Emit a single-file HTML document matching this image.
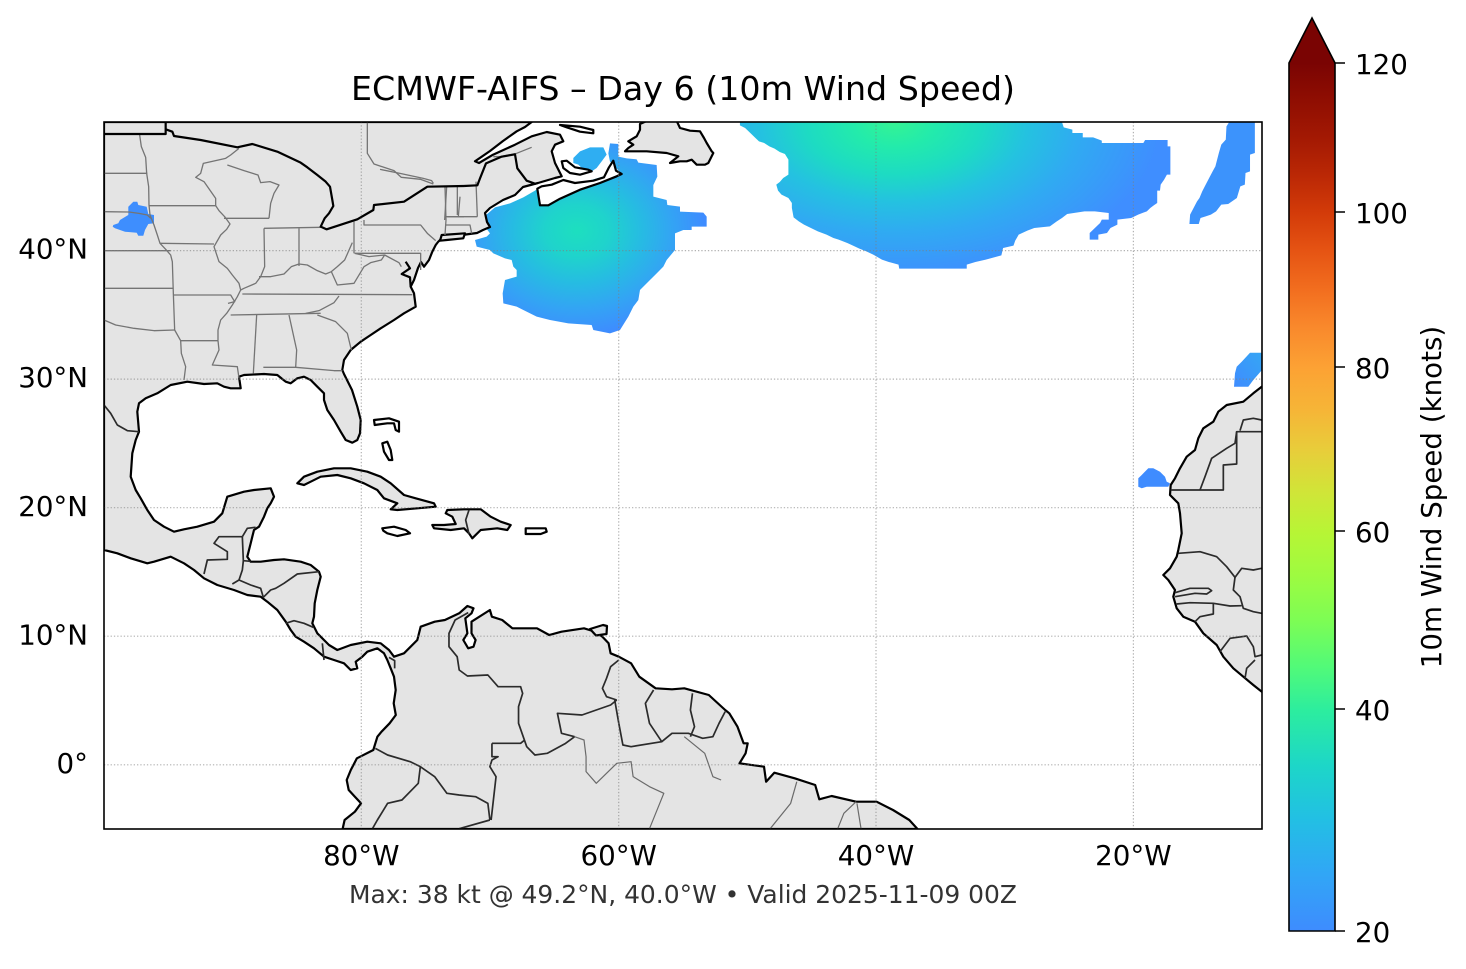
<!DOCTYPE html>
<html>
<head>
<meta charset="utf-8">
<style>
  html,body{margin:0;padding:0;background:#fff;}
  svg{display:block;}
  text{font-family:"DejaVu Sans","Liberation Sans",sans-serif;}
  .t path{vector-effect:non-scaling-stroke;}
  .st path{fill:none;stroke:#747474;stroke-width:1.3;stroke-linejoin:round;}
  .cb path{fill:none;stroke:#2b2b2b;stroke-width:1.7;stroke-linejoin:round;}
  .bl path{fill:none;stroke:#000;stroke-width:2.2;stroke-linejoin:round;}
  .bs path{fill:none;stroke:#6a6a6a;stroke-width:1.2;stroke-linejoin:round;}
</style>
</head>
<body>
<svg width="1466" height="969" viewBox="0 0 1466 969" xmlns="http://www.w3.org/2000/svg">
<defs>
  <linearGradient id="cbar" x1="0" y1="1" x2="0" y2="0">
    <stop offset="0" stop-color="#3e8cfe"/>
    <stop offset="0.065" stop-color="#31a6f6"/>
    <stop offset="0.13" stop-color="#22c0e3"/>
    <stop offset="0.19" stop-color="#1dd6c8"/>
    <stop offset="0.2535" stop-color="#2ced9f"/>
    <stop offset="0.305" stop-color="#52fa78"/>
    <stop offset="0.356" stop-color="#7cfd55"/>
    <stop offset="0.41" stop-color="#9efb40"/>
    <stop offset="0.4585" stop-color="#b7f535"/>
    <stop offset="0.505" stop-color="#d0e538"/>
    <stop offset="0.554" stop-color="#e8cd3a"/>
    <stop offset="0.60" stop-color="#f6b537"/>
    <stop offset="0.6486" stop-color="#fca234"/>
    <stop offset="0.695" stop-color="#f9892c"/>
    <stop offset="0.7385" stop-color="#f26e1f"/>
    <stop offset="0.785" stop-color="#e55313"/>
    <stop offset="0.8272" stop-color="#d33b09"/>
    <stop offset="0.87" stop-color="#bb2805"/>
    <stop offset="0.9136" stop-color="#a31903"/>
    <stop offset="0.96" stop-color="#8e0d02"/>
    <stop offset="1" stop-color="#7a0403"/>
  </linearGradient>
  <radialGradient id="gNS" cx="0.44" cy="0.46" r="0.55">
    <stop offset="0" stop-color="#1ddfbf"/>
    <stop offset="0.25" stop-color="#1fd3cc"/>
    <stop offset="0.5" stop-color="#26bce2"/>
    <stop offset="0.75" stop-color="#33a4f4"/>
    <stop offset="1" stop-color="#3e8cff"/>
  </radialGradient>
  <radialGradient id="gBig" gradientUnits="userSpaceOnUse" cx="0" cy="0" r="1" gradientTransform="translate(480,15) scale(770,470)">
    <stop offset="0" stop-color="#34f394"/>
    <stop offset="0.15" stop-color="#23ebab"/>
    <stop offset="0.33" stop-color="#1ddbc3"/>
    <stop offset="0.5" stop-color="#24c2e0"/>
    <stop offset="0.7" stop-color="#30aaf2"/>
    <stop offset="1" stop-color="#3f8eff"/>
  </radialGradient>
  <linearGradient id="gMad" x1="1" y1="0" x2="0" y2="1">
    <stop offset="0" stop-color="#35a6f4"/>
    <stop offset="1" stop-color="#3f8cff"/>
  </linearGradient>
  <clipPath id="mapclip"><rect x="104" y="122" width="1158" height="707"/></clipPath>
</defs>

<rect x="0" y="0" width="1466" height="969" fill="#fff"/>

<g clip-path="url(#mapclip)">
  <!-- ===== Wind blobs (ocean) ===== -->
  <g class="t" transform="matrix(0.3463,0,0,0.33333,727.8,118)">
    <path fill="url(#gBig)" d="M35,12 L965,12 L970,28 L995,35 L995,45 L1025,45 L1025,58 L1055,58 L1080,68 L1080,75 L1200,75 L1205,66 L1270,66 L1270,85 L1278,85 L1278,170 L1268,170 L1260,185 L1250,200 L1248,218 L1240,218 L1240,255 L1230,262 L1220,270 L1210,280 L1185,290 L1165,300 L1125,305 L1125,320 L1105,330 L1095,345 L1070,350 L1070,365 L1045,365 L1045,345 L1060,330 L1075,315 L1080,305 L1100,305 L1100,285 L1060,280 L1030,280 L980,288 L965,300 L950,310 L930,325 L885,330 L865,338 L840,350 L830,368 L825,383 L795,390 L790,412 L745,425 L715,432 L690,440 L690,452 L495,452 L493,440 L465,432 L445,425 L420,410 L400,400 L380,392 L360,382 L345,375 L320,365 L305,360 L285,350 L260,340 L240,330 L220,320 L205,310 L190,298 L185,270 L185,255 L175,240 L155,230 L145,218 L140,200 L150,192 L160,180 L175,170 L175,125 L165,108 L150,102 L135,92 L120,85 L105,75 L90,70 L75,55 L65,45 L50,30 L35,22 Z"/>
    <path fill="#3c93fc" d="M1448,12 L1522,12 L1522,105 L1508,110 L1508,160 L1495,165 L1493,200 L1480,205 L1470,240 L1445,258 L1425,260 L1410,280 L1395,290 L1380,295 L1365,300 L1360,318 L1333,318 L1335,290 L1345,270 L1355,250 L1362,240 L1370,220 L1380,200 L1390,180 L1400,160 L1408,145 L1418,105 L1425,80 L1438,65 L1440,25 Z"/>
  </g>
  <g class="t" transform="matrix(0.33333,0,0,0.33333,380,120)">
    <path fill="url(#gNS)" d="M690,70 L715,72 L715,110 L740,115 L770,118 L775,128 L830,135 L832,170 L820,195 L820,230 L860,240 L862,255 L900,260 L900,275 L970,278 L980,290 L980,320 L935,320 L935,330 L910,330 L885,340 L885,390 L860,420 L850,440 L830,460 L810,480 L795,495 L780,510 L775,540 L760,560 L745,590 L720,630 L690,640 L640,630 L635,615 L565,610 L510,600 L470,590 L430,570 L410,560 L370,550 L368,520 L375,480 L410,470 L410,450 L400,440 L395,420 L375,415 L340,400 L330,390 L290,380 L285,360 L320,350 L330,340 L315,320 L318,285 L345,262 L390,250 L430,232 L465,212 L480,200 L540,195 L600,190 L660,172 L700,160 L722,160 L705,140 L690,125 L685,100 Z"/>
  </g>
  <g class="t" transform="matrix(0.33333,0,0,0.33333,460,118)">
    <path fill="#2faef2" d="M340,120 L360,100 L390,88 L430,88 L440,110 L425,130 L410,150 L395,160 L375,160 L355,140 L340,135 Z"/>
  </g>
  <!-- Canary -->
  <path fill="#3f8cff" d="M1138.3,478.3 L1141.7,475 L1148.3,468.3 L1153.3,468.3 L1160,471.7 L1165,476.7 L1166.7,481.7 L1170,483.3 L1168.3,486.7 L1146.7,486.7 L1141.7,488.3 L1138.3,486.7 Z"/>
  <!-- Madeira area -->
  <path fill="url(#gMad)" d="M1235,373.3 L1236.7,366.7 L1241.7,361.7 L1250,352.7 L1262,352.7 L1262,370 L1253.3,380 L1248.3,386.7 L1234,386.7 Z"/>

  <!-- ===== Land ===== -->
  <path fill="#e4e4e4" stroke="#000" stroke-width="2.2" stroke-linejoin="round" d="M104,122 L531.7,122 L525,127 L516.7,131.3 L503,141 L490,151 L475,161.3 L479,163 L493,154.7 L515,144.7 L531.7,136.3 L546.7,132 L560,134.7 L563.3,141.3 L555,144.7 L551.7,151.3 L555,163 L561.7,176.3 L555,178 L538,183 L523,187 L515,195 L503,200 L490,208 L485,213 L487,222 L490,227 L483,230 L477,233 L462,235 L442,238 L438,242 L435.7,245 L432.3,251.7 L429,260 L424,266.7 L421,262 L418,268 L414,280 L410.7,286.7 L414,293.3 L415.7,306.7 L404,313.3 L394,320 L380.7,328.3 L370.7,335 L360.7,341.7 L350.7,350 L344,360 L342.3,370 L344,374 L352,390 L357.3,406.7 L360.7,420 L360,433.3 L357.3,440 L352.3,442.7 L345.7,440 L340.7,431.7 L334,420 L327.3,410 L324,400 L324,393.3 L317.3,386.7 L310.7,380 L304,376.7 L297.3,378.3 L290.7,383.3 L285.7,381.7 L277.3,375 L264,374 L244,375 L239,376.7 L240.7,388.3 L230.7,388.3 L224,386.7 L217.3,383.3 L204,384 L187.3,381.7 L170.7,385 L157.3,393.3 L145.7,398.3 L139,403.3 L137.3,411.7 L139,431.7 L135.7,440 L132.3,453.3 L130.7,476.7 L135.7,490 L140.7,498.3 L147.3,510 L154,520 L164,526.7 L174,531.7 L184,529.3 L197.3,526.7 L214,521.7 L222.3,513.3 L227.3,496.7 L244,491.7 L254,490 L270.7,488.3 L274,496.7 L270.7,503.3 L267.3,508.3 L264,516.7 L259,526.7 L254,530 L252.3,536.7 L250.7,543.3 L247.3,556.7 L250.7,561.7 L260.7,561.7 L274,560 L284,559.3 L300.7,561.7 L310.7,565 L319,571.7 L320.7,576.7 L317.3,590 L314.7,603.3 L314,616.7 L312.3,623.3 L317.3,633.3 L324,640 L329,645 L337.3,650 L350.7,645 L367.3,641.7 L380.7,643.3 L389,650 L394,656.7 L404,653.3 L417.3,640 L420.7,626.7 L434.7,621.7 L444.9,620 L459.2,613.3 L467.4,606 L473.5,608.3 L471.5,613.3 L465.3,618.3 L467.4,633.3 L463.3,640 L468.2,648.3 L473.5,646.7 L475.6,640 L471.5,633.3 L471.5,621.7 L489.9,610 L491.9,616.7 L502.2,620 L512.4,628.3 L537,628.3 L549.2,635 L561.5,631.7 L584,628.3 L596,632 L602.4,636.7 L608.6,643.3 L610.6,653.3 L618.8,656.7 L631.1,663.3 L639.3,676.7 L655.6,688.3 L672,689.3 L684.3,688.3 L708.8,695 L725.2,710 L729.3,713.3 L737.5,726.7 L743.6,743.3 L747.7,743.3 L745.6,753.3 L739.5,763.3 L764,766.7 L766.1,781.7 L774.3,772.7 L794.7,778.3 L815.2,785 L819.3,799.3 L831.6,796 L856.1,801.7 L876.6,801.7 L893,810 L909.3,820 L917.5,829 L342.6,829 L344.6,820 L354.9,811.7 L361,803.3 L354.9,796.7 L348.7,790 L346.7,780 L350.8,770 L356.9,758.3 L373.3,750 L377.4,736.7 L381.5,731.7 L389.6,723.3 L395.8,715 L393.7,703.3 L395.7,690 L394,676.7 L390.7,668.3 L387.3,660 L384,653.3 L377.3,648.3 L367.3,651.7 L362.3,656.7 L355.7,661.7 L357.3,668.3 L350.7,670 L344,663.3 L334,660 L324,656.7 L314,648.3 L304,641.7 L295.7,636.7 L290.7,630 L285.7,621.7 L277.3,610 L267.3,601.7 L260.7,596.7 L247.3,595 L234,590 L217.3,585 L204,578.3 L194,570 L184,563.3 L170.7,556.7 L154,561.7 L147.3,563.3 L130.7,558.3 L117.3,553.3 L104,550 Z"/>

  <!-- Africa -->
  <path fill="#e4e4e4" stroke="#000" stroke-width="2.2" stroke-linejoin="round" d="M1263,386 L1261.7,386.7 L1253.3,393.3 L1243.3,401.7 L1226.7,405 L1218.3,411.7 L1213.3,421.7 L1203.3,428.3 L1198.3,438.3 L1195,450 L1186.7,456.7 L1180,468.3 L1175,478.3 L1170.7,485 L1170,495 L1178.3,503.3 L1180,513.3 L1181.7,533.3 L1178.3,550 L1176.7,556.7 L1170,568.3 L1163.3,575 L1168.3,580 L1175,590 L1173.3,596.7 L1176.7,608.3 L1183.3,616.7 L1195,621.7 L1203.3,633.3 L1216.7,645 L1223.3,656.7 L1233.3,668.3 L1243.3,676.7 L1253.3,685 L1261.7,691.7 L1263,692 Z"/>

  <!-- Newfoundland -->
  <path fill="#e4e4e4" stroke="#000" stroke-width="2.2" stroke-linejoin="round" d="M640,124 L646.7,121 L676.7,121 L680,128 L690,130.7 L700,131.3 L704,138 L706.7,143 L711.7,151.3 L713.3,153 L708.3,163 L705,164.7 L696.7,164.7 L691.7,159.7 L686.7,161.3 L680,161.3 L670,163 L678.3,156.3 L666.7,153 L646.7,151.3 L625,151.3 L628.3,148 L633.3,144.7 L628.3,141.3 L636.7,136.3 L640,129.7 Z"/>

  <!-- Cuba -->
  <path fill="#e4e4e4" stroke="#000" stroke-width="2.2" stroke-linejoin="round" d="M297.3,483.3 L304,476.7 L317.3,471.7 L334,468.3 L350.7,468.3 L367.3,471.7 L380.7,476.7 L390.7,483.3 L404,495 L415.7,498.3 L434,503.3 L435.7,506.7 L417.3,508.3 L397.3,510 L390.7,509.3 L397.3,503.3 L384,498.3 L377.3,490 L364,483.3 L350.7,478.3 L337.3,475 L320.7,476.7 L310.7,481.7 L304,485 Z"/>
  <!-- Hispaniola -->
  <path fill="#e4e4e4" stroke="#000" stroke-width="2.2" stroke-linejoin="round" d="M447.3,510 L464,509.3 L480.7,509.3 L490.7,516.7 L500.7,521.7 L510.7,525 L507.3,530 L497.3,528.3 L480.7,530 L472.3,538.3 L469,533.3 L464,528.3 L450.7,530 L434,528.3 L432.3,525 L444,525 L455.7,524 L452.3,516.7 L445.7,513.3 Z"/>
  <!-- Long Island -->
  <path fill="#e4e4e4" stroke="#000" stroke-width="2.2" stroke-linejoin="round" d="M441.7,235 L465,233.3 L463.3,238.3 L446.7,240 L440,240.7 Z"/>

  <!-- Nebraska blob over land -->
  <path fill="#3e8efe" d="M113.3,225 L118.3,223.3 L120,220 L128.3,215 L128.3,206.7 L133.3,201.7 L137.3,201.7 L138.3,205 L146.7,206.7 L148.3,214 L154,215 L154,223.3 L148.3,224 L145,230 L143.3,235.7 L138.3,235.7 L136.7,232.7 L125,231.7 L115,228.3 L112.7,226.7 Z"/>

  <!-- White-filled islands -->
  <path fill="#fff" stroke="#000" stroke-width="2.2" stroke-linejoin="round" d="M537.3,188.7 L540,205.3 L548.3,205.3 L560,198.7 L580,189.7 L600,183 L616.7,176.3 L621.7,174 L616,170.7 L613.3,160.7 L609,167.3 L604,177.3 L593.3,180.7 L575,183 L563.3,180 L551.7,184.7 L541.7,186.3 Z"/>
  <path fill="#fff" stroke="#000" stroke-width="2.2" stroke-linejoin="round" d="M561.7,161.3 L566.7,160.7 L575,167.3 L588.3,169.7 L591.7,171.3 L580,174.7 L570,173 L563.3,168 Z"/>
  <path fill="#fff" stroke="#000" stroke-width="2.2" stroke-linejoin="round" d="M560,125 L580,126.7 L593.3,130 L593.3,133.3 L580,131.7 L566.7,127.3 Z"/>
  <path fill="#fff" stroke="#000" stroke-width="2.2" stroke-linejoin="round" d="M382.3,528.3 L394,526.7 L405.7,530 L410,533.3 L397.3,536 L387.3,533.3 L383.3,530.7 Z"/>
  <path fill="#fff" stroke="#000" stroke-width="2.2" stroke-linejoin="round" d="M525.7,528.3 L545.7,528.3 L546.7,531.7 L540.7,534 L525.7,534 Z"/>
  <path fill="#fff" stroke="#000" stroke-width="2.2" stroke-linejoin="round" d="M374,420 L389,418.3 L399,421.7 L399,431.7 L395.7,430 L394,423.3 L387.3,423.3 L374.7,425 Z"/>
  <path fill="#fff" stroke="#000" stroke-width="2.2" stroke-linejoin="round" d="M382.3,443.3 L387.3,441.7 L390.7,450 L392.3,460 L389,460 L384,451.7 Z"/>
  <path fill="#e4e4e4" stroke="#000" stroke-width="2.2" stroke-linejoin="round" d="M590,629 L603,625 L607,626 L606.5,634 L596,635.5 Z"/>

  <!-- ===== US state / Canadian province borders (zoom1 coords) ===== -->
  <g class="t st" transform="matrix(0.33333,0,0,0.33333,104,120)">
    <path d="M0,160 L130,160"/>
    <path d="M0,275 L75,276 L105,280 L130,285 L140,295"/>
    <path d="M107,45 L112,80 L125,112 L128,160 L134,200 L135,255 L138,285 L150,315 L160,345 L168,370 L185,388 L200,405 L205,425 L208,520 L212,630 L230,662 L232,700 L245,740 L240,780"/>
    <path d="M135,257 L335,257"/>
    <path d="M168,370 L330,372"/>
    <path d="M0,392 L200,392"/>
    <path d="M0,505 L208,505"/>
    <path d="M0,600 L35,615 L90,625 L150,632 L212,630"/>
    <path d="M208,525 L380,525 L392,545 L372,550"/>
    <path d="M230,662 L342,662"/>
    <path d="M342,662 L345,690 L325,735 L400,740 L405,775"/>
    <path d="M335,257 L345,272 L362,290 L378,312 L368,328 L350,345 L330,380 L345,425 L370,445 L385,465 L405,490 L410,510 L400,530 L385,555 L368,580 L350,600 L342,630 L342,662"/>
    <path d="M335,257 L335,235 L300,185 L275,172 L290,160 L298,130 L365,115 L380,105 L405,85"/>
    <path d="M370,135 L420,152 L462,165 L470,188 L498,185 L525,195 L510,220 L500,250 L495,295"/>
    <path d="M360,295 L495,295"/>
    <path d="M480,325 L482,440 L470,470 L455,490 L420,505 L410,510"/>
    <path d="M585,325 L585,438"/>
    <path d="M480,325 L650,322"/>
    <path d="M750,305 L750,400"/>
    <path d="M465,470 L500,470 L540,462 L562,440 L585,432 L610,435 L640,452 L665,462 L682,455 L700,440 L722,420 L745,368"/>
    <path d="M415,522 L925,524"/>
    <path d="M380,585 L650,580"/>
    <path d="M458,585 L448,760"/>
    <path d="M555,585 L578,690 L575,742"/>
    <path d="M478,742 L575,742 L690,752 L715,752"/>
    <path d="M605,580 L645,572 L690,548 L705,528"/>
    <path d="M640,585 L695,605 L730,640 L742,690"/>
    <path d="M682,455 L700,495 L750,490 L780,440 L800,428 L832,420 L842,405 L795,410 L752,400"/>
    <path d="M842,405 L885,428 L892,440"/>
    <path d="M752,400 L950,400 L950,450"/>
    <path d="M780,300 L780,315 L950,315 L970,340 L995,362"/>
    <path d="M1028,200 L1022,300"/>
    <path d="M1030,290 L1080,290"/>
    <path d="M1060,200 L1060,285"/>
    <path d="M790,0 L790,100 L810,132 L870,152 L892,172 L950,178 L988,192"/>
  </g>
  <g class="t st" transform="matrix(0.33333,0,0,0.33333,380,120)">
    <path d="M0,148 L60,160 L130,175 L155,182 L160,190"/>
    <path d="M195,200 L198,300 L195,345"/>
    <path d="M240,230 L235,290"/>
    <path d="M288,185 L292,290"/>
    <path d="M195,290 L292,290"/>
    <path d="M195,315 L270,315 L275,340"/>
    <path d="M340,110 L360,110 L410,100 L455,82"/>
  </g>

  <!-- ===== Country borders ===== -->
  <g class="t cb" transform="matrix(0.33333,0,0,0.33333,104,370)">
    <path d="M300,612 L310,570 L370,568 L370,545 L330,520 L345,500 L415,500"/>
    <path d="M415,500 L430,475 L455,472"/>
    <path d="M415,500 L418,572 L440,574"/>
    <path d="M418,572 L415,600 L405,630 L385,642"/>
    <path d="M405,630 L440,645 L470,655 L478,682"/>
    <path d="M478,682 L500,660 L515,655 L540,640 L580,612 L645,605"/>
    <path d="M545,760 L570,752 L600,760 L628,772"/>
    <path d="M655,820 L660,870"/>
    <path d="M855,862 L872,872 L872,895"/>
    <path d="M1095,420 L1085,450 L1095,492"/>
    <path d="M0,105 L20,130 L40,165 L70,182 L105,185"/>
  </g>
  <g class="t cb" transform="matrix(0.4092,0,0,0.33333,279.16,590)">
    <path d="M462,68 L430,90 L415,130 L415,170 L435,200 L440,240 L460,258 L510,255 L535,290 L590,290 L595,310 L585,350 L585,400 L605,470 L625,495 L655,490 L700,460 L722,440"/>
    <path d="M830,210 L810,230 L800,265 L790,295 L800,320 L825,330"/>
    <path d="M825,330 L810,345 L740,375 L680,370 L690,430 L722,440"/>
    <path d="M915,300 L895,340 L905,400 L935,455"/>
    <path d="M1010,310 L1005,360 L1015,410 L1005,440"/>
    <path d="M1090,365 L1075,400 L1060,440 L1035,445 L1000,430 L960,430 L935,455 L860,470 L840,465 L830,400 L820,330"/>
    <path d="M235,475 L265,495 L320,515 L345,530 L380,560 L410,610 L440,615 L480,620 L510,640 L515,690"/>
    <path d="M520,460 L590,460 L600,450"/>
    <path d="M520,460 L520,500 L535,500 L520,510 L515,530 L530,560 L518,690"/>
    <path d="M345,530 L340,580 L300,630 L265,640 L240,690 L228,716"/>
    <path d="M440,716 L515,690"/>
  </g>
  <g class="t bs" transform="matrix(0.4092,0,0,0.33333,279.16,590)">
    <path d="M722,440 L745,450 L750,500 L750,545 L775,580 L800,550 L825,520 L860,515 L865,560 L905,590 L940,610 L905,716"/>
    <path d="M990,440 L1040,490 L1060,560 L1080,570"/>
    <path d="M1265,575 L1250,640 L1200,716"/>
    <path d="M1410,635 L1380,670 L1365,716"/>
    <path d="M1412,640 L1422,716"/>
  </g>
  <g class="t cb" transform="matrix(0.33333,0,0,0.33333,1080,340)">
    <path d="M272,450 L430,450 L430,375 L470,372 L470,275 L545,275"/>
    <path d="M360,450 L375,410 L395,355 L440,325 L465,310 L470,275"/>
    <path d="M480,272 L490,240 L520,235 L545,240"/>
    <path d="M295,640 L360,635 L410,650 L440,680 L465,712 L485,685 L520,690 L545,685"/>
    <path d="M465,712 L460,750 L480,770 L490,805 L520,815 L545,820"/>
    <path d="M285,758 L330,745 L385,745 L395,752 L380,762 L345,760 L285,770"/>
    <path d="M290,792 L330,788 L400,790 L450,798 L485,797"/>
    <path d="M345,845 L360,830 L400,822 L400,792"/>
    <path d="M420,935 L450,895 L500,888 L520,920 L525,950 L545,945"/>
    <path d="M495,1015 L500,985 L525,960"/>
  </g>

  <!-- Black lines: Canada border / Great Lakes / Chesapeake -->
  <g class="t bl" transform="matrix(0.33333,0,0,0.33333,104,120)">
    <path d="M0,42 L185,42 L185,0"/>
    <path d="M185,28 L205,35 L210,48 L290,60 L400,82 L445,72 L520,95 L590,128 L610,142 L640,165 L665,185 L678,200 L685,240 L688,258 L675,280 L662,295 L650,320 L668,328 L760,298 L808,270 L810,255 L900,245 L970,200 L1080,198"/>
    <path d="M905,425 L918,445 L893,462 L918,472 L920,500"/>
  </g>
  <g class="t bl" transform="matrix(0.33333,0,0,0.33333,380,120)">
    <path d="M252,198 L292,196 L300,175 L318,130 L365,110 L405,103 L412,145 L440,182 L468,192"/>
  </g>

  <!-- ===== Gridlines ===== -->
  <g stroke="#7f7f7f" stroke-opacity="0.6" stroke-width="1.2" stroke-dasharray="1.3 2">
    <line x1="361.3" y1="122" x2="361.3" y2="829"/>
    <line x1="618.7" y1="122" x2="618.7" y2="829"/>
    <line x1="876" y1="122" x2="876" y2="829"/>
    <line x1="1133.4" y1="122" x2="1133.4" y2="829"/>
    <line x1="104" y1="250.6" x2="1262" y2="250.6"/>
    <line x1="104" y1="379.1" x2="1262" y2="379.1"/>
    <line x1="104" y1="507.7" x2="1262" y2="507.7"/>
    <line x1="104" y1="636.2" x2="1262" y2="636.2"/>
    <line x1="104" y1="764.8" x2="1262" y2="764.8"/>
  </g>
</g>

<!-- Frame -->
<rect x="104" y="122" width="1158" height="707" fill="none" stroke="#000" stroke-width="1.6"/>

<!-- Title -->
<text x="683" y="100" font-size="33.2" text-anchor="middle" fill="#000" textLength="664" lengthAdjust="spacingAndGlyphs">ECMWF-AIFS – Day 6 (10m Wind Speed)</text>

<!-- Lat labels -->
<g font-size="27.7" fill="#000" text-anchor="end">
  <text x="88" y="258.7">40°N</text>
  <text x="88" y="387.2">30°N</text>
  <text x="88" y="515.8">20°N</text>
  <text x="88" y="644.3">10°N</text>
  <text x="88" y="772.9">0°</text>
</g>
<!-- Lon labels -->
<g font-size="27.7" fill="#000" text-anchor="middle">
  <text x="361.3" y="865">80°W</text>
  <text x="618.7" y="865">60°W</text>
  <text x="876" y="865">40°W</text>
  <text x="1133.4" y="865">20°W</text>
</g>

<!-- Bottom annotation -->
<text x="683" y="903" font-size="24.8" text-anchor="middle" fill="#333" textLength="668" lengthAdjust="spacingAndGlyphs">Max: 38 kt @ 49.2°N, 40.0°W • Valid 2025-11-09 00Z</text>

<!-- Colorbar -->
<rect x="1289" y="63" width="46" height="868" fill="url(#cbar)"/>
<path d="M1289,63 L1312,18 L1335,63 Z" fill="#7a0403"/>
<path d="M1289,931 L1289,63 L1312,18 L1335,63 L1335,931 Z" fill="none" stroke="#000" stroke-width="1.6" stroke-linejoin="miter"/>
<g stroke="#000" stroke-width="1.5">
  <line x1="1335" y1="63" x2="1345" y2="63"/>
  <line x1="1335" y1="212" x2="1345" y2="212"/>
  <line x1="1335" y1="367" x2="1345" y2="367"/>
  <line x1="1335" y1="531" x2="1345" y2="531"/>
  <line x1="1335" y1="709" x2="1345" y2="709"/>
  <line x1="1335" y1="931" x2="1345" y2="931"/>
</g>
<g font-size="27.7" fill="#000">
  <text x="1355" y="74">120</text>
  <text x="1355" y="223">100</text>
  <text x="1355" y="378">80</text>
  <text x="1355" y="542">60</text>
  <text x="1355" y="720">40</text>
  <text x="1355" y="942">20</text>
</g>
<text transform="translate(1441,497) rotate(-90)" font-size="27.7" text-anchor="middle" fill="#000">10m Wind Speed (knots)</text>
</svg>
</body>
</html>
